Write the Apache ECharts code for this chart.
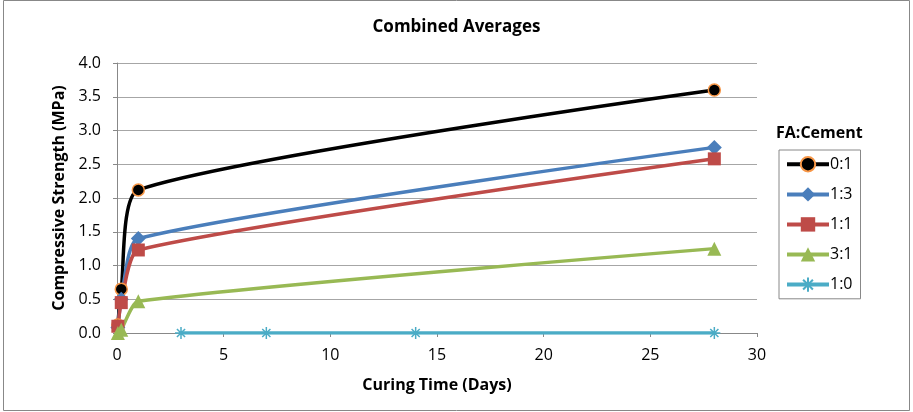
<!DOCTYPE html>
<html>
<head>
<meta charset="utf-8">
<script src="https://cdn.jsdelivr.net/npm/echarts@6/dist/echarts.min.js"></script>
<style>
  html, body { margin: 0; padding: 0; background: #fff; }
  #chart { width: 913px; height: 412px; }
</style>
</head>
<body>
<div id="chart"></div>
<script>
// Curing time (days) and average compressive strength (MPa) per FA:Cement ratio
const seriesNames = ['0:1', '1:3', '1:1', '3:1', '1:0'];
const days = [0.04, 0.2, 1, 28];
const days10 = [3, 7, 14, 28];
const strength01 = [0.12, 0.65, 2.12, 3.6];
const strength13 = [0.08, 0.5, 1.4, 2.75];
const strength11 = [0.1, 0.45, 1.23, 2.58];
const strength31 = [0.0, 0.05, 0.47, 1.25];
const strength10 = [0.0, 0.0, 0.0, 0.0];

const pairs = (xs, ys) => xs.map((x, i) => [x, ys[i]]);
const FONT = '"Open Sans", "Liberation Sans", sans-serif';
const asterisk = 'path://M0,5L10,5M5,0L5,10M1.6,1.6L8.4,8.4M8.4,1.6L1.6,8.4';

const chart = echarts.init(document.getElementById('chart'), null, { renderer: 'canvas' });

function line(name, data, color, symbol, size, extraItem) {
  return {
    name, type: 'line', data, smooth: 0.2,
    symbol, symbolSize: size,
    lineStyle: { color, width: 3.5 },
    itemStyle: Object.assign({ color }, extraItem || {}),
    emphasis: { disabled: true },
    animation: false
  };
}

chart.setOption({
  backgroundColor: '#fff',
  title: {
    text: 'Combined Averages', left: 'center', top: 14,
    textStyle: { fontFamily: FONT, fontSize: 17, fontWeight: 'bold', color: '#000' }
  },
  graphic: [
    { type: 'rect', shape: { x: 3.5, y: 0.5, width: 906, height: 410 },
      style: { fill: 'none', stroke: '#888', lineWidth: 1 }, silent: true },
    { type: 'text', left: 776, top: 125,
      style: { text: 'FA:Cement', font: 'bold 16px ' + FONT, fill: '#000' } }
  ],
  legend: {
    orient: 'vertical', left: 779, top: 150,
    data: seriesNames,
    itemWidth: 42, itemHeight: 18, itemGap: 14,
    padding: [6, 8, 6, 6],
    borderColor: '#888', borderWidth: 1,
    lineStyle: { width: 4 },
    textStyle: { fontFamily: FONT, fontSize: 16, color: '#000', padding: [0, 0, 0, -4] }
  },
  grid: { left: 117, right: 156, top: 63, bottom: 79, containLabel: false },
  xAxis: {
    type: 'value', min: 0, max: 30, interval: 5,
    name: 'Curing Time (Days)', nameLocation: 'middle', nameGap: 44,
    nameTextStyle: { fontFamily: FONT, fontSize: 16, fontWeight: 'bold', color: '#000' },
    axisLine: { show: true, lineStyle: { color: '#888' } },
    axisTick: { show: true, length: 4, lineStyle: { color: '#888' } },
    axisLabel: { fontFamily: FONT, fontSize: 16, color: '#000', margin: 14 },
    splitLine: { show: false }
  },
  yAxis: {
    type: 'value', min: 0, max: 4, interval: 0.5,
    name: 'Compressive Strength (MPa)', nameLocation: 'middle', nameGap: 47,
    nameTextStyle: { fontFamily: FONT, fontSize: 16, fontWeight: 'bold', color: '#000' },
    axisLine: { show: true, lineStyle: { color: '#888' } },
    axisTick: { show: true, length: 4, lineStyle: { color: '#888' } },
    axisLabel: { fontFamily: FONT, fontSize: 16, color: '#000', margin: 16,
      formatter: v => v.toFixed(1) },
    splitLine: { show: true, lineStyle: { color: '#a6a6a6', width: 1.2 } }
  },
  series: [
    line('0:1', pairs(days, strength01), '#000000', 'circle', 12,
      { borderColor: '#f79646', borderWidth: 1.5 }),
    line('1:3', pairs(days, strength13), '#4a7ebb', 'diamond', 15),
    line('1:1', pairs(days, strength11), '#be4b48', 'rect', 13),
    line('3:1', pairs(days, strength31), '#98b954', 'triangle', 14),
    line('1:0', pairs(days10, strength10), '#4bacc6', asterisk, 12,
      { borderColor: '#4bacc6', borderWidth: 1.5 })
  ]
});
</script>
</body>
</html>
